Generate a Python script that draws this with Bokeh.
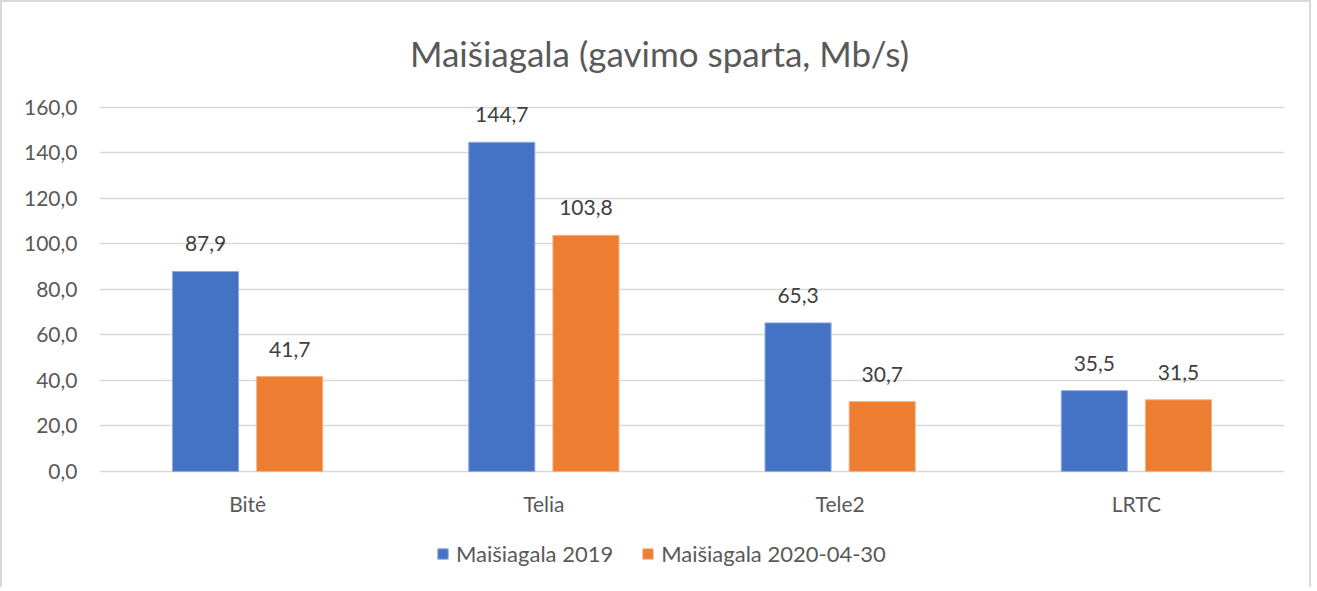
from bokeh.plotting import figure
from bokeh.models import ColumnDataSource, FactorRange, Range1d, FixedTicker, Legend, LegendItem, LabelSet, Label
from bokeh.transform import dodge
from bokeh.core.properties import value
from bokeh.embed import file_html
from bokeh.resources import INLINE

categories = ["Bitė", "Telia", "Tele2", "LRTC"]
series_2019 = [87.9, 144.7, 65.3, 35.5]
series_2020 = [41.7, 103.8, 30.7, 31.5]
series_names = ["Maišiagala 2019", "Maišiagala 2020-04-30"]
y_ticks = [0, 20, 40, 60, 80, 100, 120, 140, 160]
title_text = "Maišiagala (gavimo sparta, Mb/s)"

BLUE = "#4472C4"
ORANGE = "#ED7D31"
FONT = "Lato"

def fmt(v):
    return f"{v:.1f}".replace(".", ",")

src = ColumnDataSource(dict(
    cat=categories,
    zero=[0] * len(categories),
    a=series_2019,
    b=series_2020,
    la=[fmt(v) for v in series_2019],
    lb=[fmt(v) for v in series_2020],
))

# frame spans the full figure height; the areas above 160 and below 0 hold
# the title, the category labels and the legend (no ticks there)
p = figure(
    x_range=FactorRange(*categories, range_padding=0),
    y_range=Range1d(-51.9, 206.15),
    width=1311, height=587,
    output_backend="svg", toolbar_location=None,
    x_axis_location=None,
    min_border_left=97, min_border_right=29, min_border_top=0, min_border_bottom=0,
)
p.styles = {"border-left": "2px solid #d9d9d9", "border-top": "2px solid #d9d9d9",
            "border-right": "2px solid #d9d9d9", "box-sizing": "border-box"}
p.outline_line_color = None
p.background_fill_color = "white"

bw = 0.223
off = 0.142
ra = p.vbar(x=dodge("cat", -off, range=p.x_range), top="a", width=bw, source=src,
            fill_color=BLUE, line_color="#8faadc", line_width=1)
rb = p.vbar(x=dodge("cat", off, range=p.x_range), top="b", width=bw, source=src,
            fill_color=ORANGE, line_color="#f4b183", line_width=1)

for col, lab, o in (("a", "la", -off), ("b", "lb", off)):
    ls = LabelSet(x=dodge("cat", o, range=p.x_range), y=col, text=lab, source=src,
                  text_align="center", text_baseline="bottom", y_offset=20,
                  text_font=value(FONT), text_font_size="21px", text_color="#404040")
    p.add_layout(ls)

# category labels
p.text(x="cat", y="zero", text="cat", source=src, y_offset=32,
       text_align="center", text_baseline="middle",
       text_font=value(FONT), text_font_size="21px", text_color="#595959")

# title
title = Label(x=560, y=537, x_units="screen", y_units="screen", text=title_text,
              text_align="center", text_baseline="middle",
              text_font=FONT, text_font_size="35px", text_color="#595959")
p.add_layout(title)

# y axis
p.yaxis.ticker = FixedTicker(ticks=y_ticks)
p.yaxis.major_label_overrides = {t: fmt(t) for t in y_ticks}
p.yaxis.axis_line_color = None
p.yaxis.major_tick_line_color = None
p.yaxis.minor_tick_line_color = None
p.yaxis.major_label_standoff = 16
p.yaxis.major_label_text_font = FONT
p.yaxis.major_label_text_font_size = "21px"
p.yaxis.major_label_text_color = "#595959"

p.xgrid.grid_line_color = None
p.ygrid.grid_line_color = "#d9d9d9"
p.ygrid.grid_line_width = 1.5

legend = Legend(items=[LegendItem(label=series_names[0], renderers=[ra]),
                       LegendItem(label=series_names[1], renderers=[rb])],
                orientation="horizontal", location=(337, 22))
legend.glyph_width = 13
legend.glyph_height = 13
legend.label_text_font = FONT
legend.label_text_font_size = "22px"
legend.label_text_color = "#595959"
legend.border_line_color = None
legend.background_fill_alpha = 0
legend.padding = 0
legend.margin = 0
legend.spacing = 28
legend.label_standoff = 7
p.add_layout(legend, "center")

open("out.html", "w").write(file_html(p, INLINE))
